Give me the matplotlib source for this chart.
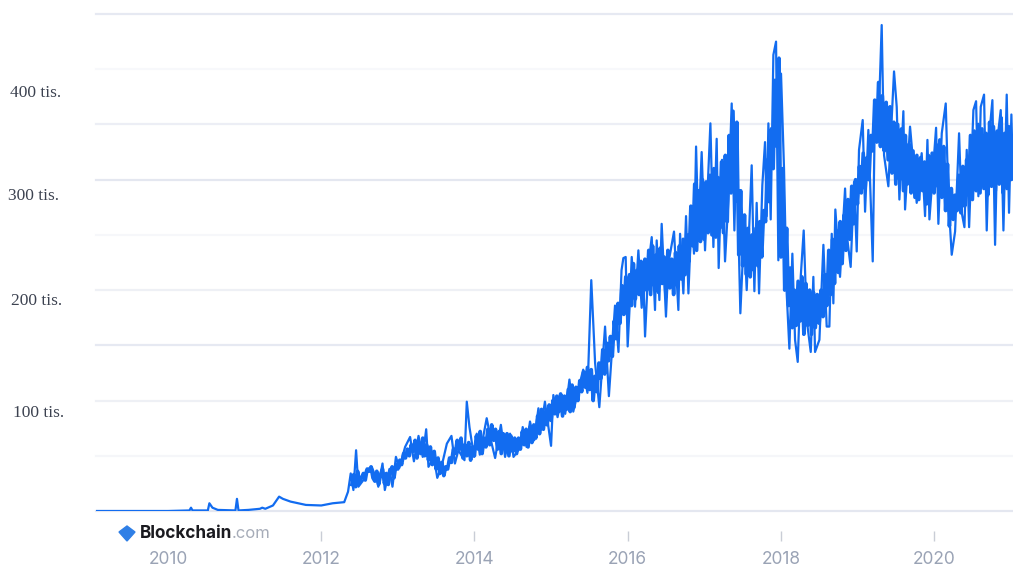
import numpy as np
import matplotlib
matplotlib.use('Agg')
import matplotlib.pyplot as plt
from matplotlib.patches import Polygon

# transactions per day (thousands): the peaks and dips
years = [
    2009.06, 2010.0, 2010.28, 2010.30, 2010.32, 2010.52, 2010.54, 2010.58, 2010.65, 2010.88, 2010.90, 2010.92,
    2011.05, 2011.2, 2011.23, 2011.27, 2011.37, 2011.45, 2011.5, 2011.6, 2011.8, 2012.0, 2012.15, 2012.3,
    2012.35, 2012.385, 2012.42, 2012.455, 2012.485, 2012.55, 2012.585, 2012.66, 2012.725, 2012.745, 2012.80,
    2012.83, 2012.89, 2012.93, 2012.975, 2013.02, 2013.095, 2013.16, 2013.21, 2013.27, 2013.325, 2013.37,
    2013.40, 2013.47, 2013.515, 2013.57, 2013.64, 2013.70, 2013.745, 2013.79, 2013.87, 2013.90, 2013.935,
    2013.995, 2014.03, 2014.07, 2014.16, 2014.225, 2014.27, 2014.345, 2014.40, 2014.465, 2014.51, 2014.595,
    2014.63, 2014.68, 2014.725, 2014.78, 2014.835, 2014.865, 2014.92, 2015.0, 2015.03, 2015.085, 2015.14,
    2015.185, 2015.24, 2015.29, 2015.355, 2015.42, 2015.475, 2015.525, 2015.575, 2015.63, 2015.705, 2015.755,
    2015.835, 2015.88, 2015.92,
    2015.944, 2015.974, 2016.00, 2016.03, 2016.053, 2016.096, 2016.14, 2016.183, 2016.205, 2016.227, 2016.27,
    2016.314, 2016.357, 2016.379, 2016.414, 2016.444, 2016.50, 2016.531, 2016.605, 2016.662, 2016.684,
    2016.727, 2016.762, 2016.793, 2016.836, 2016.866, 2016.893, 2016.923, 2016.966, 2017.01, 2017.045,
    2017.08, 2017.119, 2017.162, 2017.188, 2017.232, 2017.271, 2017.315, 2017.358, 2017.393, 2017.423,
    2017.445, 2017.471, 2017.519, 2017.554, 2017.619, 2017.654, 2017.684, 2017.715, 2017.758, 2017.793,
    2017.815, 2017.837, 2017.867, 2017.902, 2017.937, 2017.967, 2018.002, 2018.041, 2018.076, 2018.111,
    2018.15, 2018.185, 2018.22, 2018.259, 2018.298, 2018.337, 2018.39, 2018.424, 2018.446, 2018.503,
    2018.555, 2018.598, 2018.633, 2018.664, 2018.685, 2018.711, 2018.772, 2018.838, 2018.859, 2018.911,
    2018.955, 2018.99, 2019.02, 2019.068, 2019.099, 2019.142, 2019.199, 2019.229, 2019.273, 2019.316,
    2019.347, 2019.403, 2019.477, 2019.512, 2019.547, 2019.599, 2019.621, 2019.686, 2019.773, 2019.838,
    2019.882, 2019.913, 2019.939, 2020.026, 2020.056, 2020.10, 2020.152, 2020.187, 2020.23, 2020.274,
    2020.326, 2020.361, 2020.396, 2020.426, 2020.457, 2020.513, 2020.548, 2020.578, 2020.609, 2020.652,
    2020.687, 2020.722, 2020.761, 2020.796, 2020.826, 2020.87, 2020.905, 2020.948, 2020.978, 2021.009, 2021.03,
]
tx_k = [
    0, 0, 0.5, 3, 0.5, 0.5, 7, 3, 1, 0.5, 11, 0.5,
    1, 2, 3, 2, 5, 13, 11, 8.5, 5.5, 5, 7, 8,
    17.5, 34, 19, 55, 22, 28, 37, 40, 28, 22, 43,
    19, 38, 22, 49, 39, 58, 67, 45, 68, 49, 74,
    40, 49, 30, 40, 61, 68, 43, 55, 46, 99, 76,
    49, 70, 51, 84, 61, 48, 78, 49, 70, 49, 57,
    76, 58, 81, 64, 93, 73, 99, 59, 105, 85, 105,
    88, 119, 90, 110, 128, 107, 209, 134, 94, 167, 104,
    186, 144, 218,
    229, 230, 149, 191, 230, 185, 236, 184, 209, 158, 221,
    248, 182, 245, 191, 260, 176, 224, 253, 182, 251,
    197, 267, 197, 270, 233, 330, 251, 325, 236, 294,
    351, 239, 337, 220, 318, 226, 282, 369, 254, 340,
    257, 179, 254, 200, 313, 199, 279, 197, 295, 334,
    267, 351, 264, 413, 425, 227, 396, 310, 197, 147,
    233, 155, 135, 212, 254, 173, 144, 212, 144, 155,
    241, 167, 167, 251, 188, 273, 212, 292, 251, 221,
    298, 235, 327, 354, 271, 345, 226, 369, 348, 440,
    322, 294, 398, 366, 282, 362, 273, 348, 279, 324,
    267, 336, 264, 347, 260, 342, 369, 282, 232, 253,
    342, 270, 257, 327, 257, 363, 371, 285, 366, 377,
    254, 342, 372, 241, 336, 363, 254, 377, 270, 359, 300,
]

# the dense part of the line, one value every 0.025 year from 2012.4
dense_k = [
    24, 33, 22, 36, 26, 30, 34, 28, 38, 36, 40, 30, 27, 36, 24, 33, 38, 25, 34, 24, 36, 40, 30, 42,
    # 2013
    38, 46, 42, 52, 48, 56, 50, 60, 54, 64, 48, 62, 52, 66, 50, 60, 46, 58, 42, 54,
    38, 48, 34, 44, 32, 40, 38, 48, 44, 56, 52, 64, 56, 66, 48, 60, 50, 62, 46, 58,
    # 2014
    50, 68, 56, 72, 52, 66, 58, 74, 60, 78, 64, 74, 56, 72, 52, 70,
    56, 70, 50, 68, 54, 66, 52, 66, 56, 72, 60, 74, 58, 76, 62, 78, 66, 86, 70, 92, 74, 90, 78, 96,
    # 2015
    82, 100, 88, 104, 90, 106, 86, 104, 92, 110, 90, 114, 94, 112, 100, 118,
    108, 126, 112, 130, 110, 128, 100, 122, 108, 134, 120, 146, 124, 152, 136, 158,
    140, 172, 156, 188, 170, 204, 178, 212,
    # 2016
    178, 214, 186, 224, 192, 218, 196, 226, 190, 228, 200, 236, 196, 240, 204, 232,
    198, 238, 206, 230, 194, 236, 202, 228, 196, 234, 204, 240, 210, 246, 214, 250,
    226, 276, 240, 296, 236, 290, 244, 300,
    # 2017
    246, 298, 252, 304, 250, 310, 248, 302, 256, 316, 252, 322, 262, 340, 288, 362,
    280, 352, 232, 290, 222, 268, 214, 256, 212, 250, 218, 256, 222, 262, 230, 272,
    262, 318, 280, 346, 310, 390, 330, 410,
    # 2018
    230, 310, 200, 256, 186, 220, 166, 200, 168, 208, 172, 212, 160, 206, 168, 200,
    160, 198, 166, 196, 170, 200, 176, 214, 186, 236, 196, 246, 206, 254, 216, 262,
    224, 268, 236, 282, 246, 294, 260, 300,
    # 2019
    278, 312, 288, 324, 292, 320, 300, 340, 326, 372, 334, 388, 330, 376, 326, 370,
    318, 366, 306, 352, 296, 350, 300, 346, 290, 340, 296, 332, 288, 326, 284, 322,
    282, 320, 290, 316, 278, 322, 286, 324,
    # 2020
    288, 332, 294, 336, 284, 330, 272, 314, 258, 292, 264, 286, 272, 304, 270, 312,
    276, 318, 286, 340, 282, 344, 290, 350, 288, 346, 292, 342, 286, 352, 294, 348,
    290, 344, 296, 356, 288, 342, 292, 348,
    # 2021
    300, 330,
]
dense_years = 2012.4 + 0.025 * np.arange(len(dense_k))

grid_values = [450, 400, 350, 300, 250, 200, 150, 100, 50, 0]
grid_colors = ['#e6e9f2', '#f7f8fb', '#eceef5', '#e4e7f0', '#f6f7fa',
               '#eef0f5', '#e6e9f2', '#eef0f5', '#f5f6f9', '#e4e7f0']
year_labels = ['2010', '2012', '2014', '2016', '2018', '2020']
year_ticks = [2010, 2012, 2014, 2016, 2018, 2020]
y_labels = ['400 tis.', '300 tis.', '200 tis.', '100 tis.']
y_label_pos = [(36, 93), (34, 196), (37, 301), (39, 413)]

W, H = 1013, 567
fig = plt.figure(figsize=(W / 100, H / 100), dpi=100)
ax = fig.add_axes([96 / W, 1 - 511 / H, 917 / W, 497 / H])
ax.set_xlim(2009.06, 2021.03)
ax.set_ylim(0, 450)
for s in ax.spines.values():
    s.set_visible(False)

for v, c in zip(grid_values, grid_colors):
    ax.axhline(v, color=c, lw=1.6, zorder=1, clip_on=False)

ax.plot(dense_years, dense_k, color='#126cf0', lw=2.6, zorder=2)
ax.plot(years, tx_k, color='#126cf0', lw=1.6, zorder=3, solid_joinstyle='round')

ax.set_yticks([])
ax.set_xticks(year_ticks)
ax.set_xticklabels(year_labels, fontsize=12.5, color='#9aa3b5', family='Inter')
ax.tick_params(axis='x', length=0, pad=29)

# small marks between the logo row and the year labels
ax.vlines(year_ticks[1:], -0.06, -0.04, transform=ax.get_xaxis_transform(),
          color='#c9cdd6', lw=1, clip_on=False)

for lab, (px, py) in zip(y_labels, y_label_pos):
    fig.text(px / W, 1 - py / H, lab, ha='center', va='center', fontsize=12.5,
             family='Liberation Serif', color='#3c4250')

# logo
fig.add_artist(Polygon([(119 / W, 1 - 532 / H), (127 / W, 1 - 526 / H), (135 / W, 1 - 532 / H),
                        (127 / W, 1 - 541 / H)], closed=True, color='#2f7fe6', transform=fig.transFigure))
fig.text(140 / W, 1 - 534 / H, 'Blockchain', fontsize=12.3, fontweight='bold', family='Inter',
         color='#1a1a1f', va='center')
fig.text(232 / W, 1 - 534 / H, '.com', fontsize=12, family='Inter', color='#a6acb8', va='center')

fig.savefig('out.png', dpi=100)
